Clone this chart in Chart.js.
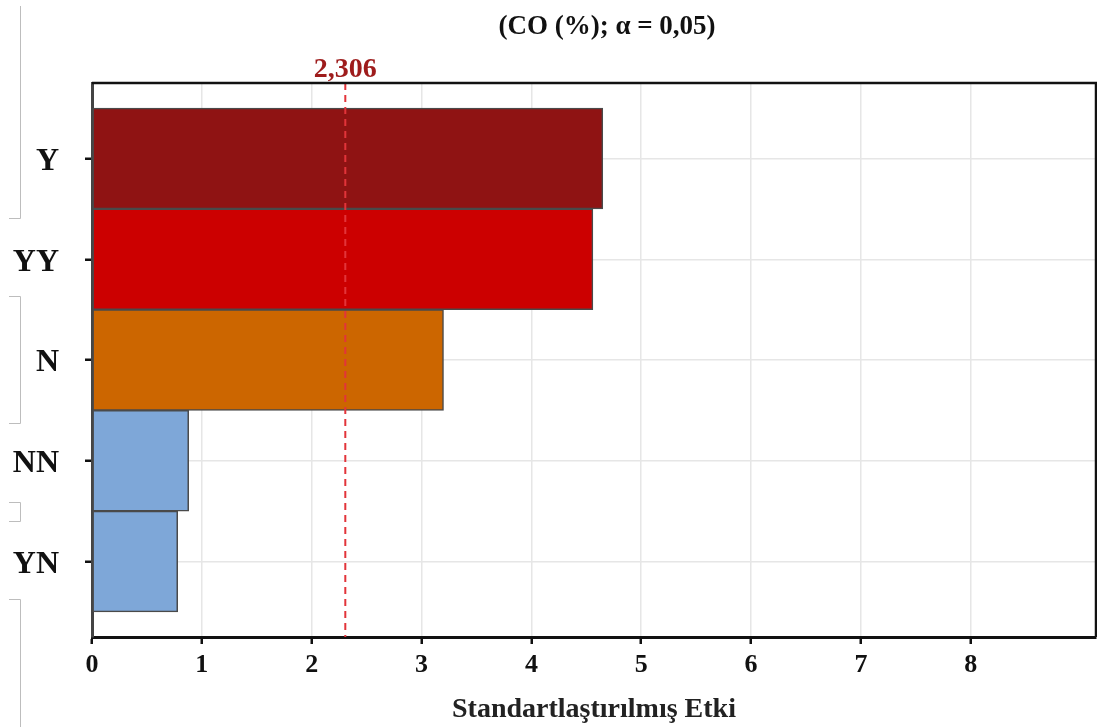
<!DOCTYPE html>
<html>
<head>
<meta charset="utf-8">
<script src="https://cdn.jsdelivr.net/npm/chart.js@4.4.1/dist/chart.umd.min.js"></script>
<style>
html,body{margin:0;padding:0;background:#fff;}
#wrap{width:1097px;height:727px;position:relative;}
</style>
</head>
<body>
<div id="wrap"><canvas id="c" width="1097" height="727"></canvas></div>
<script>
// ---- data ----
const categories = ["Y", "YY", "N", "NN", "YN"];
const effects = [4.65, 4.56, 3.20, 0.88, 0.78];
const barColors = ["#8f1313", "#cc0000", "#cc6600", "#7ea7d8", "#7ea7d8"];
const xTicks = [0, 1, 2, 3, 4, 5, 6, 7, 8];
const refValue = 2.306;
const refLabel = "2,306";
const chartTitle = "(CO (%); \u03b1 = 0,05)";
const xTitle = "Standartlaştırılmış Etki";

const SERIF = "'Liberation Serif', 'Times New Roman', serif";

const overlay = {
  id: 'overlay',
  afterDatasetsDraw(chart) {
    const ctx = chart.ctx;
    const a = chart.chartArea;
    const xs = chart.scales.x;
    const px = xs.getPixelForValue(refValue);
    ctx.save();
    // reference line
    ctx.strokeStyle = '#e2343a';
    ctx.lineWidth = 2;
    ctx.setLineDash([7, 5]);
    ctx.beginPath();
    ctx.moveTo(px, a.top);
    ctx.lineTo(px, a.bottom);
    ctx.stroke();
    ctx.setLineDash([]);
    // frame top/right
    ctx.strokeStyle = '#111';
    ctx.lineWidth = 2.5;
    ctx.beginPath();
    ctx.moveTo(a.left, a.top);
    ctx.lineTo(a.right, a.top);
    ctx.lineTo(a.right, a.bottom);
    ctx.stroke();
    // ref label
    ctx.fillStyle = '#9e1c1c';
    ctx.font = 'bold 28px ' + SERIF;
    ctx.textAlign = 'center';
    ctx.textBaseline = 'alphabetic';
    ctx.fillText(refLabel, px, a.top - 6);
    // title
    ctx.fillStyle = '#111';
    ctx.font = 'bold 27px ' + SERIF;
    ctx.fillText(chartTitle, (a.left + a.right) / 2 + 13, 34);
    // left decorative gray brackets
    ctx.strokeStyle = '#bdbdbd';
    ctx.lineWidth = 1;
    const seg = (pts) => { ctx.beginPath(); ctx.moveTo(pts[0][0], pts[0][1]); for (let i = 1; i < pts.length; i++) ctx.lineTo(pts[i][0], pts[i][1]); ctx.stroke(); };
    seg([[20.5, 6], [20.5, 218.5], [9, 218.5]]);
    seg([[9, 296.5], [20.5, 296.5], [20.5, 423.5], [9, 423.5]]);
    seg([[9, 502.5], [20.5, 502.5], [20.5, 521.5], [9, 521.5]]);
    seg([[9, 599.5], [20.5, 599.5], [20.5, 727]]);
    ctx.restore();
  }
};

new Chart(document.getElementById('c'), {
  type: 'bar',
  data: {
    datasets: [{
      data: effects.map((v, i) => ({ x: v, y: i })),
      backgroundColor: barColors,
      borderColor: '#4a4a4a',
      borderWidth: 1.5,
      borderSkipped: false,
      barPercentage: 1,
      categoryPercentage: 1
    }]
  },
  options: {
    indexAxis: 'y',
    responsive: false,
    animation: false,
    layout: { padding: { top: 83, right: 1, bottom: 0, left: 0 } },
    plugins: { legend: { display: false }, tooltip: { enabled: false } },
    scales: {
      x: {
        type: 'linear',
        min: 0,
        max: 9.14,
        afterBuildTicks: (axis) => { axis.ticks = xTicks.map(v => ({ value: v })); },
        afterFit: (axis) => { axis.height = 90; },
        ticks: { font: { family: SERIF, size: 26, weight: 'bold' }, color: '#111', padding: 6 },
        grid: { color: '#e6e6e6', lineWidth: 1.5, tickColor: '#111', tickLength: 7, tickWidth: 2.5 },
        border: { color: '#111', width: 3 },
        title: { display: true, text: xTitle, font: { family: SERIF, size: 28, weight: 'bold' }, color: '#222', padding: 0 }
      },
      y: {
        type: 'linear',
        reverse: true,
        offset: false,
        min: -0.75,
        max: 4.75,
        afterBuildTicks: (axis) => { axis.ticks = categories.map((c, i) => ({ value: i })); },
        afterFit: (axis) => { axis.width = 92; },
        ticks: {
          callback: (v) => categories[v],
          font: { family: SERIF, size: 32, weight: 'bold' },
          color: '#111',
          padding: 26,
          labelOffset: 3
        },
        grid: { offset: false, color: '#e6e6e6', lineWidth: 1.5, tickColor: '#111', tickLength: 7, tickWidth: 2.5 },
        border: { color: '#444', width: 3 }
      }
    }
  },
  plugins: [overlay]
});
</script>
</body>
</html>
